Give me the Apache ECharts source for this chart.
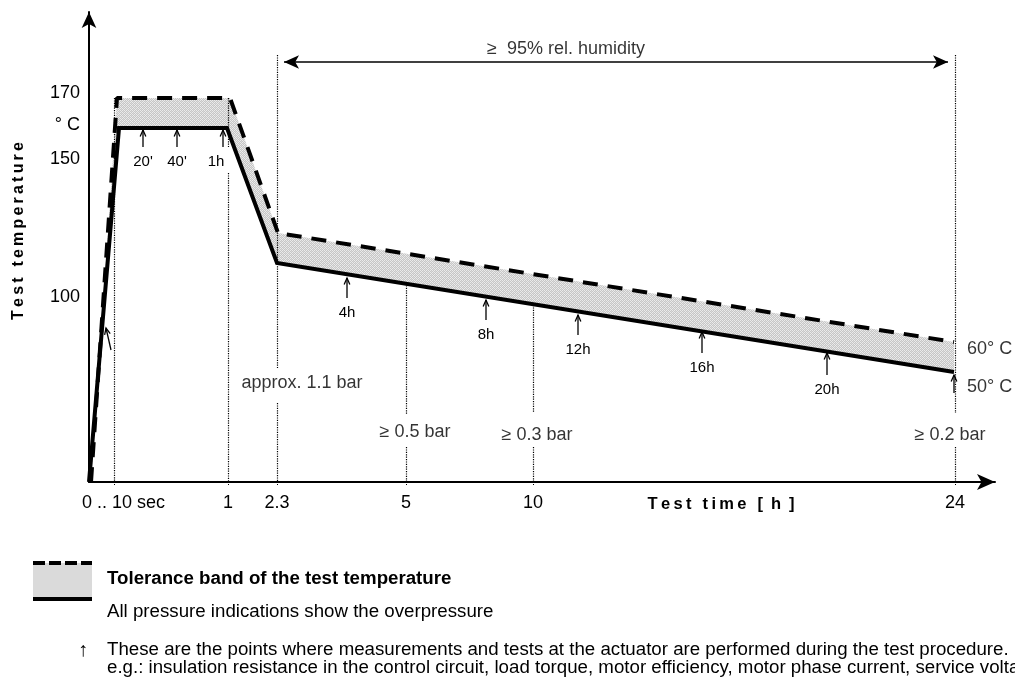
<!DOCTYPE html>
<html><head><meta charset="utf-8">
<script src="https://cdn.jsdelivr.net/npm/echarts@6/dist/echarts.min.js"></script>
<style>html,body{margin:0;padding:0;background:#fff}#c{width:1015px;height:679px}</style>
</head><body><div id="c"></div>
<script>
// ---- Data (schematic axis units: the time axis of the original drawing is not to scale) ----
// Time-axis tick positions (schematic units) and their labels
const timeTickValues = [25, 139, 188, 317, 444, 866];
const timeTickLabels = ['0 .. 10 sec', '1', '2.3', '5', '10', '24'];
// Temperature-axis tick positions (schematic units) and labels
const tempTickValues = [389, 357, 323, 185];
const tempTickLabels = ['170', '° C', '150', '100'];

// Lower limit (solid) and upper limit (dashed) of the tolerance band
const lowerX = [0, 30, 138, 188, 865];
const lowerY = [0, 354, 354, 219, 110];
const upperX = [2, 28, 141, 189, 865];
const upperY = [0, 384, 384, 249, 140];

// Dotted reference lines: x, from-y, to-y
const refLineX    = [25, 139, 139, 188, 188, 317, 317, 444, 444, 866, 866];
const refLineFrom = [384, 384, 309, 427, 79, 199, 35, 177, 35, 427, 35];
const refLineTo   = [0, 335, 0, 114, 0, 67, 0, 69, 0, 69, 0];

// Humidity span
const humidityFrom = 188, humidityTo = 866, humidityLevel = 420;

// Measurement points (arrows)
const arrowLabels = ['', "20'", "40'", '1h', '4h', '8h', '12h', '16h', '20h', ''];
const arrowTipX   = [17, 54, 88, 134, 258, 397, 489, 613, 738, 865];
const arrowTipY   = [154, 352, 352, 352, 204, 182, 167, 150, 129, 107];
const arrowTailX  = [22, 54, 88, 134, 258, 397, 489, 613, 738, 865];
const arrowTailY  = [132, 335, 335, 335, 184, 162, 147, 129, 107, 89];
const arrowLabelX = [22, 54, 88, 127, 258, 397, 489, 613, 738, 865];

// Annotations
const noteTexts = ['approx. 1.1 bar', '≥ 0.5 bar', '≥ 0.3 bar', '≥ 0.2 bar', '≥  95% rel. humidity'];
const noteX = [213, 326, 448, 861, 477];
const noteY = [99, 50, 47, 47, 433];
const endTexts = ['60° C', '50° C'];
const endX = [878, 878];
const endY = [133, 95];

// ---- Chart ----
const FONT = '"Liberation Sans", Arial, Helvetica, sans-serif';
function makePattern() {
  const c = document.createElement('canvas');
  c.width = 4; c.height = 4;
  const g = c.getContext('2d');
  g.fillStyle = '#c6c6c6'; g.fillRect(0, 0, 4, 4);
  g.fillStyle = '#ebebeb';
  g.fillRect(0, 0, 1, 1); g.fillRect(2, 0, 1, 1); g.fillRect(1, 1, 1, 1); g.fillRect(3, 1, 1, 1);
  g.fillRect(0, 2, 1, 1); g.fillRect(2, 2, 1, 1); g.fillRect(1, 3, 1, 1); g.fillRect(3, 3, 1, 1);
  g.fillStyle = '#dadada'; g.fillRect(1, 1, 1, 1); g.fillRect(3, 3, 1, 1);
  return c;
}
const pattern = makePattern();

const chart = echarts.init(document.getElementById('c'), null, { renderer: 'canvas' });

const refLines = refLineX.map((x, i) => [{ coord: [x, refLineFrom[i]] }, { coord: [x, refLineTo[i]] }]);
refLines.push([
  { coord: [humidityFrom + 7, humidityLevel], symbol: 'arrow', symbolSize: [10, 15],
    lineStyle: { type: 'solid', width: 1.5, color: '#000' } },
  { coord: [humidityTo - 7, humidityLevel], symbol: 'arrow', symbolSize: [10, 15] }
]);

const TS = '\u2009';
const spaced = s => s.split('').join(TS);

const option = {
  animation: false,
  backgroundColor: '#fff',
  textStyle: { fontFamily: FONT, color: '#000' },
  grid: { left: 89, top: 12, width: 906, height: 470, containLabel: false },
  xAxis: {
    type: 'value', min: 0, max: 906,
    axisLine: { show: true, symbol: ['none', 'arrow'], symbolSize: [12, 18], lineStyle: { color: '#000', width: 2 } },
    axisTick: { show: true, customValues: timeTickValues, length: 4, lineStyle: { color: '#000', type: 'dotted', width: 1 } },
    axisLabel: {
      customValues: timeTickValues, margin: 12, color: '#000', fontSize: 18, fontFamily: FONT,
      formatter: v => {
        const i = timeTickValues.indexOf(v);
        return i === 0 ? '{s|' + timeTickLabels[0] + '}' : (i >= 0 ? timeTickLabels[i] : '');
      },
      rich: { s: { fontSize: 18, fontFamily: FONT, color: '#000', padding: [0, 0, 0, 19] } }
    },
    splitLine: { show: false }
  },
  yAxis: {
    type: 'value', min: 0, max: 470,
    axisLine: { show: true, symbol: ['none', 'arrow'], symbolSize: [11, 16], lineStyle: { color: '#000', width: 2 } },
    axisTick: { show: false },
    axisLabel: {
      customValues: tempTickValues, margin: 9, color: '#000', fontSize: 18, fontFamily: FONT,
      formatter: v => { const i = tempTickValues.indexOf(v); return i >= 0 ? tempTickLabels[i] : ''; }
    },
    splitLine: { show: false }
  },
  graphic: [
    { type: 'text', rotation: Math.PI / 2, x: 19, y: 231,
      style: { text: spaced('Test temperature'),
        font: 'bold 16px ' + FONT, fill: '#000', align: 'center', verticalAlign: 'middle',
        textAlign: 'center', textVerticalAlign: 'middle' } },
    { type: 'text', x: 721, y: 504,
      style: { text: 'T\u2009e\u2009s\u2009t\u2009 \u2009t\u2009i\u2009m\u2009e\u2009 \u2009[\u2009 h\u2009 ]',
        font: 'bold 16.5px ' + FONT, fill: '#000', align: 'center', verticalAlign: 'middle',
        textAlign: 'center', textVerticalAlign: 'middle' } },
    // legend swatch
    { type: 'rect', shape: { x: 33, y: 563, width: 59, height: 35 }, style: { fill: '#dadada' } },
    { type: 'line', shape: { x1: 33, y1: 563, x2: 92, y2: 563 }, style: { stroke: '#000', lineWidth: 4, lineDash: [12, 4] } },
    { type: 'line', shape: { x1: 33, y1: 599, x2: 92, y2: 599 }, style: { stroke: '#000', lineWidth: 4 } },
    { type: 'text', x: 107, y: 579, style: { text: 'Tolerance band of the test temperature', font: 'bold 18.7px ' + FONT, fill: '#000', verticalAlign: 'middle', textVerticalAlign: 'middle' } },
    { type: 'text', x: 107, y: 612, style: { text: 'All pressure indications show the overpressure', font: '18.7px ' + FONT, fill: '#000', verticalAlign: 'middle', textVerticalAlign: 'middle' } },
    { type: 'text', x: 83, y: 650, style: { text: '↑', font: '20px ' + FONT, fill: '#000', align: 'center', textAlign: 'center', verticalAlign: 'middle', textVerticalAlign: 'middle' } },
    { type: 'text', x: 107, y: 650, style: { text: 'These are the points where measurements and tests at the actuator are performed during the test procedure.', font: '18.7px ' + FONT, fill: '#000', verticalAlign: 'middle', textVerticalAlign: 'middle' } },
    { type: 'text', x: 107, y: 668, style: { text: 'e.g.: insulation resistance in the control circuit, load torque, motor efficiency, motor phase current, service voltage', font: '18.7px ' + FONT, fill: '#000', verticalAlign: 'middle', textVerticalAlign: 'middle' } }
  ],
  series: [
    {
      type: 'custom', name: 'band', silent: true, z: 1,
      data: [[0]],
      renderItem: (params, api) => {
        const pts = [];
        upperX.forEach((x, i) => pts.push(api.coord([x, upperY[i]])));
        for (let i = lowerX.length - 1; i >= 0; i--) pts.push(api.coord([lowerX[i], lowerY[i]]));
        return { type: 'polygon', shape: { points: pts }, style: { fill: { image: pattern, repeat: 'repeat' } } };
      }
    },
    {
      type: 'line', name: 'lower', z: 3, symbol: 'none', silent: true,
      data: lowerX.map((x, i) => [x, lowerY[i]]),
      lineStyle: { color: '#000', width: 4, join: 'miter' },
      markLine: {
        silent: true, symbol: ['none', 'none'], label: { show: false }, animation: false,
        lineStyle: { color: '#000', type: 'dotted', width: 1.2 },
        emphasis: { disabled: true },
        data: refLines
      }
    },
    {
      type: 'line', name: 'upper', z: 3, symbol: 'none', silent: true,
      data: upperX.map((x, i) => [x, upperY[i]]),
      lineStyle: { color: '#000', width: 4, type: [15, 10] }
    },
    {
      type: 'scatter', name: 'notes', z: 5, symbolSize: 0, silent: true, clip: false,
      data: noteTexts.map((t, i) => ({ value: [noteX[i], noteY[i]], name: t }))
        .concat(endTexts.map((t, i) => ({ value: [endX[i], endY[i]], name: t, label: { position: 'right', distance: 0 } }))),
      label: { show: true, position: 'inside', formatter: '{b}', fontSize: 18, fontFamily: FONT, color: '#000' }
    },
    {
      type: 'custom', name: 'arrows', z: 6, silent: true, clip: false,
      data: arrowTipX.map((x, i) => [x, arrowTipY[i], arrowTailX[i], arrowTailY[i], arrowLabelX[i]]),
      renderItem: (params, api) => {
        const i = params.dataIndex;
        const tip = api.coord([api.value(0), api.value(1)]);
        const tail = api.coord([api.value(2), api.value(3)]);
        const lab = api.coord([api.value(4), api.value(3)]);
        const ang = Math.atan2(tail[1] - tip[1], tail[0] - tip[0]);
        const L = 7, sp = 0.42;
        const h1 = [tip[0] + L * Math.cos(ang + sp), tip[1] + L * Math.sin(ang + sp)];
        const h2 = [tip[0] + L * Math.cos(ang - sp), tip[1] + L * Math.sin(ang - sp)];
        const children = [
          { type: 'line', shape: { x1: tip[0], y1: tip[1], x2: tail[0], y2: tail[1] }, style: { stroke: '#000', lineWidth: 1.3 } },
          { type: 'polyline', shape: { points: [h1, tip, h2] }, style: { stroke: '#000', lineWidth: 1.3, fill: null } }
        ];
        if (arrowLabels[i]) {
          children.push({ type: 'text', x: lab[0], y: tail[1] + 15,
            style: { text: arrowLabels[i], font: '15px ' + FONT, fill: '#000', align: 'center', verticalAlign: 'middle', textAlign: 'center', textVerticalAlign: 'middle' } });
        }
        return { type: 'group', children };
      }
    }
  ]
};
chart.setOption(option);
</script></body></html>
